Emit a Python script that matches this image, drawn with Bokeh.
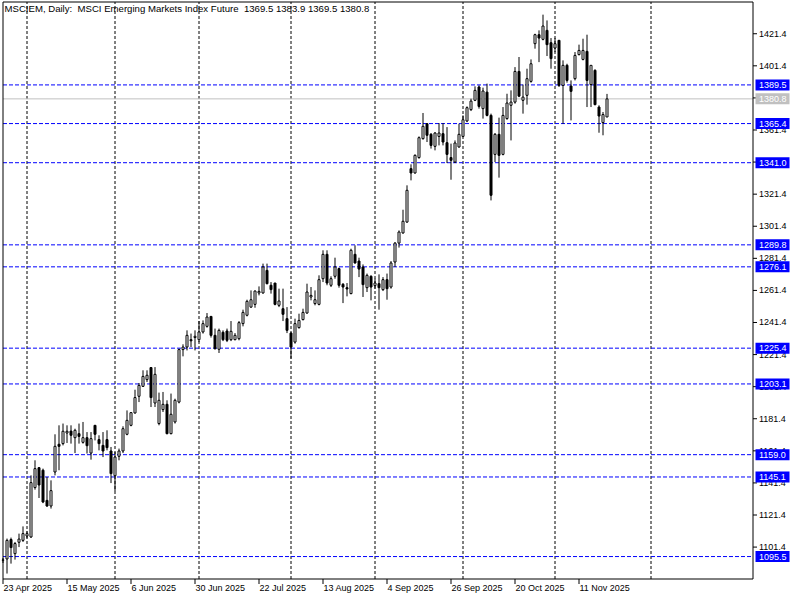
import pandas as pd
from bokeh.plotting import figure
from bokeh.models import Range1d, ColumnDataSource
from bokeh.core.properties import value
from bokeh.embed import file_html
from bokeh.resources import INLINE

symbol = "MSCIEM"
period = "Daily"
description = "MSCI Emerging Markets Index Future"
start_date = "2025-04-23"

open_ = [1093.2, 1094.0, 1106.1, 1097.3, 1104.4, 1105.6, 1108.3, 1107.7, 1138.5, 1150.9,
         1149.3, 1130.5, 1127.0, 1148.2, 1165.5, 1165.9, 1172.5, 1173.7, 1169.6, 1172.1,
         1166.7, 1169.6, 1160.0, 1177.3, 1168.4, 1164.8, 1168.4, 1161.3, 1145.9, 1158.0,
         1161.3, 1171.7, 1177.3, 1185.0, 1195.4, 1201.6, 1205.8, 1213.3, 1191.2, 1178.4,
         1187.1, 1190.4, 1172.1, 1179.4, 1191.8, 1224.5, 1226.1, 1230.7, 1232.0, 1230.7,
         1235.5, 1239.0, 1245.2, 1233.4, 1224.7, 1235.3, 1236.1, 1230.7, 1230.7, 1231.3,
         1240.7, 1245.9, 1251.0, 1252.7, 1259.8, 1259.8, 1273.9, 1264.6, 1266.0, 1252.1,
         1250.0, 1243.8, 1234.8, 1229.2, 1238.2, 1243.2, 1247.3, 1257.3, 1253.2, 1252.7,
         1268.7, 1283.9, 1264.6, 1270.2, 1275.0, 1265.2, 1263.1, 1259.4, 1283.9, 1279.7,
         1276.0, 1263.1, 1270.2, 1264.4, 1265.6, 1261.9, 1268.1, 1263.5, 1279.1, 1290.9,
         1297.2, 1304.0, 1337.3, 1334.6, 1344.2, 1356.0, 1365.3, 1358.7, 1351.2, 1357.4,
         1359.1, 1353.5, 1344.2, 1341.4, 1350.8, 1357.4, 1367.0, 1374.1, 1379.9, 1388.2,
         1374.7, 1385.0, 1370.5, 1346.2, 1358.7, 1346.2, 1368.5, 1376.8, 1378.8, 1397.9,
         1379.9, 1383.0, 1391.7, 1415.2, 1420.8, 1417.9, 1423.5, 1415.8, 1412.5, 1417.3,
         1389.2, 1401.7, 1388.8, 1393.4, 1408.4, 1405.4, 1410.4, 1389.7, 1398.6, 1375.7,
         1366.0, 1369.5]
high = [1094.6, 1106.7, 1107.3, 1104.6, 1109.8, 1114.3, 1111.2, 1146.1, 1155.5, 1151.3,
        1150.3, 1145.1, 1143.0, 1171.7, 1177.3, 1178.4, 1177.3, 1177.3, 1175.2, 1178.4,
        1179.4, 1173.1, 1173.1, 1177.3, 1171.1, 1173.1, 1174.2, 1163.8, 1160.7, 1162.8,
        1176.7, 1186.6, 1185.6, 1199.5, 1203.7, 1211.6, 1211.6, 1213.6, 1213.6, 1197.7,
        1198.1, 1192.9, 1197.1, 1193.9, 1225.1, 1227.8, 1236.5, 1234.5, 1236.5, 1242.3,
        1242.7, 1247.3, 1245.2, 1237.6, 1237.6, 1236.5, 1237.6, 1242.3, 1234.8, 1242.3,
        1249.4, 1255.6, 1261.4, 1261.4, 1263.9, 1278.1, 1278.1, 1266.6, 1266.0, 1262.5,
        1262.5, 1251.0, 1235.3, 1243.8, 1246.9, 1250.0, 1265.6, 1263.5, 1261.4, 1270.8,
        1286.4, 1286.4, 1270.2, 1281.8, 1275.6, 1266.0, 1266.0, 1287.4, 1289.5, 1281.8,
        1277.6, 1271.9, 1270.8, 1268.7, 1271.4, 1269.7, 1271.9, 1279.7, 1291.5, 1298.8,
        1311.7, 1326.9, 1340.0, 1346.2, 1357.4, 1372.0, 1365.7, 1359.5, 1360.1, 1365.7,
        1365.7, 1363.2, 1352.9, 1354.9, 1365.3, 1370.5, 1376.1, 1380.9, 1388.6, 1389.2,
        1387.8, 1390.3, 1371.6, 1359.5, 1369.1, 1375.7, 1384.0, 1386.1, 1400.6, 1406.9,
        1389.7, 1399.6, 1405.4, 1421.4, 1423.5, 1433.3, 1429.7, 1418.7, 1418.7, 1417.3,
        1404.8, 1402.7, 1392.3, 1410.0, 1414.6, 1418.3, 1420.8, 1401.7, 1399.2, 1376.8,
        1372.6, 1383.9]
low = [1091.5, 1084.9, 1091.1, 1093.6, 1101.4, 1104.6, 1106.9, 1107.1, 1137.2, 1132.0,
       1128.8, 1126.5, 1125.4, 1146.1, 1149.3, 1164.8, 1166.3, 1165.9, 1160.0, 1165.9,
       1165.9, 1159.7, 1155.9, 1167.9, 1161.7, 1157.5, 1161.7, 1141.3, 1136.3, 1155.5,
       1160.0, 1171.1, 1176.7, 1184.6, 1191.8, 1201.2, 1204.3, 1188.7, 1188.7, 1177.3,
       1185.6, 1171.7, 1171.7, 1178.4, 1191.0, 1220.3, 1224.0, 1226.1, 1224.0, 1229.2,
       1234.5, 1238.2, 1232.0, 1224.5, 1222.4, 1229.8, 1229.2, 1229.8, 1230.3, 1230.3,
       1239.0, 1245.2, 1250.6, 1250.6, 1258.3, 1259.4, 1265.2, 1259.4, 1252.1, 1251.0,
       1242.3, 1234.8, 1218.9, 1228.2, 1237.6, 1242.7, 1246.9, 1255.2, 1252.1, 1252.1,
       1266.6, 1264.6, 1263.5, 1268.7, 1263.1, 1253.5, 1257.7, 1259.0, 1278.1, 1269.7,
       1257.3, 1260.4, 1255.2, 1262.5, 1249.4, 1261.0, 1255.6, 1262.5, 1276.0, 1288.1,
       1296.8, 1303.6, 1330.0, 1334.2, 1343.5, 1355.4, 1353.9, 1349.8, 1348.7, 1351.8,
       1351.8, 1340.8, 1330.4, 1340.8, 1350.4, 1357.0, 1366.3, 1373.2, 1379.4, 1374.7,
       1368.5, 1369.9, 1317.5, 1341.4, 1331.7, 1345.6, 1367.8, 1354.9, 1377.8, 1381.9,
       1371.6, 1377.2, 1390.9, 1412.1, 1403.7, 1417.3, 1407.5, 1399.6, 1410.0, 1388.2,
       1365.3, 1390.9, 1367.4, 1392.3, 1407.9, 1404.8, 1375.7, 1375.7, 1376.8, 1359.7,
       1358.1, 1369.5]
close = [1093.4, 1105.6, 1101.1, 1103.6, 1106.4, 1109.8, 1109.8, 1141.6, 1150.3, 1140.1,
         1129.5, 1127.0, 1136.6, 1164.2, 1164.2, 1173.6, 1173.6, 1171.1, 1174.2, 1170.4,
         1169.6, 1164.6, 1169.0, 1171.7, 1165.9, 1161.3, 1163.4, 1147.2, 1157.5, 1161.3,
         1175.2, 1180.4, 1185.2, 1194.6, 1202.2, 1207.8, 1208.5, 1194.6, 1209.1, 1192.9,
         1190.4, 1172.1, 1184.2, 1192.9, 1224.5, 1226.1, 1233.4, 1230.0, 1232.8, 1235.5,
         1240.7, 1244.8, 1233.4, 1225.1, 1236.5, 1230.7, 1230.3, 1235.9, 1233.4, 1241.3,
         1247.7, 1254.6, 1255.6, 1261.0, 1260.8, 1276.0, 1265.6, 1261.9, 1252.7, 1254.8,
         1246.5, 1236.5, 1226.1, 1240.7, 1242.7, 1247.7, 1260.4, 1258.3, 1255.6, 1268.1,
         1283.9, 1266.0, 1268.7, 1276.0, 1264.6, 1263.5, 1262.3, 1286.4, 1278.5, 1274.7,
         1265.0, 1270.8, 1263.5, 1266.0, 1263.1, 1268.1, 1262.5, 1278.5, 1290.9, 1297.8,
         1304.5, 1323.8, 1334.6, 1345.6, 1356.6, 1363.7, 1358.1, 1351.8, 1359.5, 1359.5,
         1353.9, 1346.2, 1342.5, 1353.3, 1358.7, 1367.8, 1375.3, 1379.4, 1386.1, 1376.1,
         1385.7, 1370.5, 1320.7, 1358.7, 1345.6, 1370.5, 1378.2, 1378.8, 1397.9, 1382.5,
         1381.9, 1393.4, 1402.7, 1420.8, 1418.7, 1426.2, 1414.6, 1405.9, 1415.2, 1389.2,
         1401.7, 1392.3, 1385.5, 1407.9, 1411.0, 1411.0, 1392.3, 1401.7, 1377.2, 1370.1,
         1371.0, 1380.8]

level_lines = [1389.5, 1365.4, 1341.0, 1289.8, 1276.1, 1225.4, 1203.1, 1159.0, 1145.1, 1095.5]
price_ticks = [1421.4, 1401.4, 1381.4, 1361.4, 1341.4, 1321.4, 1301.4, 1281.4, 1261.4,
               1241.4, 1221.4, 1201.4, 1181.4, 1161.4, 1141.4, 1121.4, 1101.4]
date_tick_dates = ["2025-04-23", "2025-05-15", "2025-06-06", "2025-06-30", "2025-07-22",
                   "2025-08-13", "2025-09-04", "2025-09-26", "2025-10-20", "2025-11-11"]
grid_dates = ["2025-05-01", "2025-06-02", "2025-07-01", "2025-08-01", "2025-09-01",
              "2025-10-01", "2025-11-03", "2025-12-05"]

# ---- styling / layout constants ----
FONT = value("Liberation Sans")
BLUE = "#0000ff"
GRAY = "#c0c0c0"
PX = 0.25            # bar units per screen pixel
PY = 0.62336         # price units per screen pixel
Y_TOP = 1442.12      # price at the top edge of the canvas
X_LEFT = -0.625      # bar position at the left edge of the canvas
FRAME_L = X_LEFT + 2.5 * PX
AXIS_X = X_LEFT + 752.5 * PX
FRAME_T = Y_TOP - 1.5 * PY
FRAME_B = Y_TOP - 578.5 * PY

n = len(close)
dates = pd.bdate_range(start_date, periods=n + 30)
idx = list(range(n))


def bar_of(d):
    return int(dates.get_loc(pd.Timestamp(d)))


bull = [c >= o for o, c in zip(open_, close)]
src = ColumnDataSource(dict(
    x=idx, high=high, low=low,
    top=[max(o, c) for o, c in zip(open_, close)],
    bottom=[min(o, c) for o, c in zip(open_, close)],
    fill=["white" if b else "black" for b in bull],
))

p = figure(width=800, height=600, output_backend="svg", toolbar_location=None,
           x_range=Range1d(X_LEFT, X_LEFT + 800 * PX),
           y_range=Range1d(Y_TOP - 600 * PY, Y_TOP),
           x_axis_type=None, y_axis_type=None,
           min_border=0, min_border_left=0, min_border_right=0,
           min_border_top=0, min_border_bottom=0)
p.background_fill_color = "white"
p.border_fill_color = "white"
p.outline_line_color = None
p.grid.visible = False

# month grid (vertical dashed)
grid_bars = [bar_of(d) for d in grid_dates]
p.segment(x0=grid_bars, y0=FRAME_B, x1=grid_bars, y1=FRAME_T,
          line_color="black", line_width=1, line_dash="3 2")

# horizontal levels + current price line
p.segment(x0=FRAME_L, y0=level_lines, x1=AXIS_X, y1=level_lines,
          line_color=BLUE, line_width=1, line_dash="4 2")
p.segment(x0=FRAME_L, y0=close[-1], x1=AXIS_X, y1=close[-1],
          line_color=GRAY, line_width=1)

# candles
p.segment(x0="x", y0="low", x1="x", y1="high", source=src, line_color="black", line_width=1)
p.vbar(x="x", width=0.5, top="top", bottom="bottom", source=src,
       fill_color="fill", line_color="black", line_width=1)

# chart frame
p.segment(x0=[FRAME_L, FRAME_L, FRAME_L, AXIS_X],
          y0=[FRAME_B, FRAME_T, FRAME_B, FRAME_B],
          x1=[AXIS_X, AXIS_X, FRAME_L, AXIS_X],
          y1=[FRAME_B, FRAME_T, FRAME_T, FRAME_T],
          line_color="black", line_width=1)

# right price scale
p.segment(x0=AXIS_X, y0=price_ticks, x1=AXIS_X + 4 * PX, y1=price_ticks,
          line_color="black", line_width=1)
p.text(x=AXIS_X + 6 * PX, y=price_ticks, text=[f"{t:.1f}" for t in price_ticks],
       text_font=FONT, text_font_size=value("9px"), text_color="black",
       text_align="left", text_baseline="middle")

# level labels on the price scale
box_x = AXIS_X + 19.5 * PX
p.rect(x=box_x, y=level_lines, width=34, height=11, width_units="screen",
       height_units="screen", fill_color=BLUE, line_color=None)
p.text(x=AXIS_X + 6 * PX, y=level_lines, text=[f"{lv:.1f}" for lv in level_lines],
       text_font=FONT, text_font_size=value("9px"), text_color="white",
       text_align="left", text_baseline="middle")
p.rect(x=box_x, y=close[-1], width=34, height=11, width_units="screen",
       height_units="screen", fill_color=GRAY, line_color=None)
p.text(x=AXIS_X + 6 * PX, y=[close[-1]], text=[f"{close[-1]:.1f}"],
       text_font=FONT, text_font_size=value("9px"), text_color="white",
       text_align="left", text_baseline="middle")

# time scale
tick_bars = [bar_of(d) for d in date_tick_dates]
tick_labels = [f"{pd.Timestamp(d).day} {pd.Timestamp(d).strftime('%b')} {pd.Timestamp(d).year}"
               for d in date_tick_dates]
p.segment(x0=tick_bars, y0=FRAME_B, x1=tick_bars, y1=FRAME_B - 5 * PY,
          line_color="black", line_width=1)
p.text(x=[b + 0.5 * PX for b in tick_bars], y=FRAME_B - 4 * PY, text=tick_labels,
       text_font=FONT, text_font_size=value("9px"), text_color="black",
       text_align="left", text_baseline="top")

# header
title = (f"{symbol}, {period}:\u00a0 {description}\u00a0 "
         f"{open_[-1]:.1f} {high[-1]:.1f} {low[-1]:.1f} {close[-1]:.1f}")
p.text(x=[X_LEFT + 4 * PX], y=[Y_TOP - 2 * PY], text=[title], text_font=FONT,
       text_font_size=value("9.6px"), text_color="black",
       text_align="left", text_baseline="top")

open("out.html", "w").write(file_html(p, INLINE))
